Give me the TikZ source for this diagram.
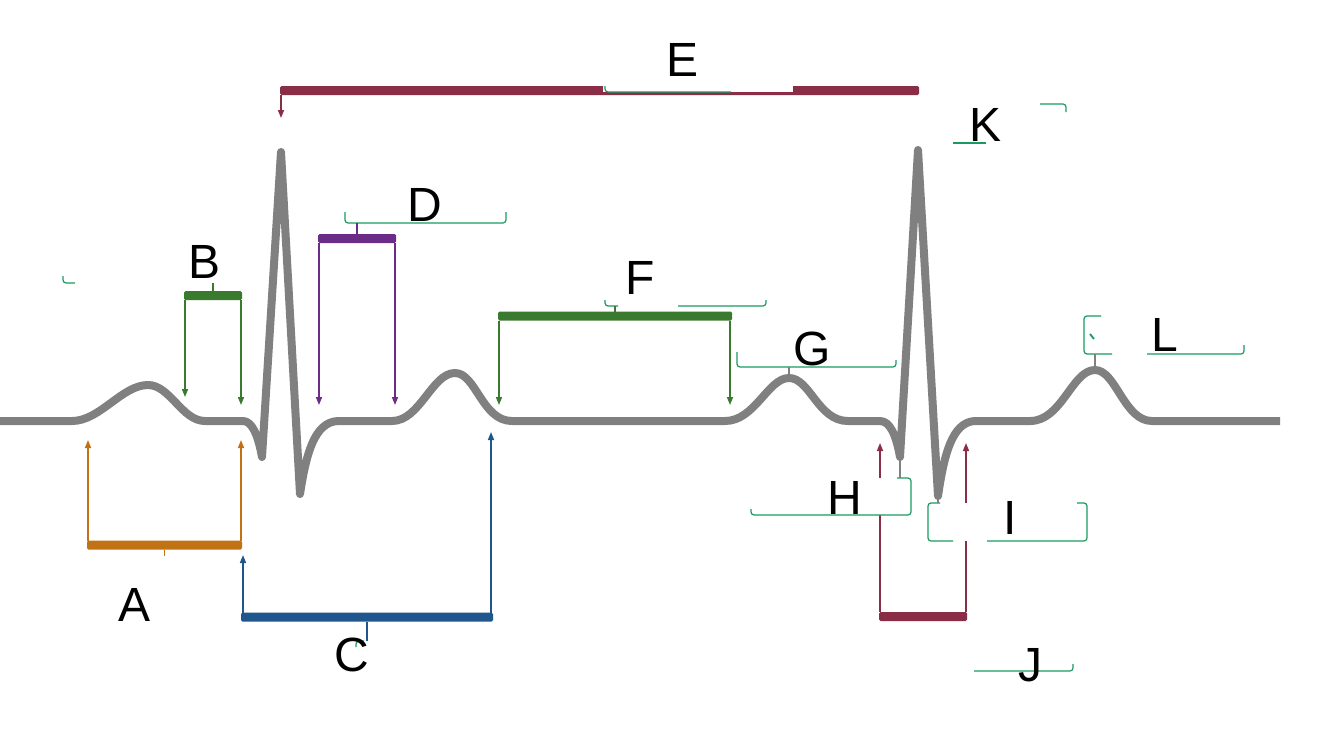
\documentclass[tikz,border=0pt]{standalone}
\usepackage{fontspec}
\setmainfont{Liberation Sans}
\usetikzlibrary{arrows.meta}
\definecolor{ecggray}{RGB}{128,128,128}
\definecolor{boxgreen}{RGB}{26,154,96}
\definecolor{brgreen}{RGB}{58,122,46}
\definecolor{brorange}{RGB}{192,114,20}
\definecolor{brblue}{RGB}{31,86,142}
\definecolor{brpurple}{RGB}{107,44,135}
\definecolor{brmaroon}{RGB}{138,45,71}
\begin{document}
\begin{tikzpicture}[x=1pt,y=-1pt,
  trace/.style={draw=ecggray,line width=8pt,line join=round},
  bar/.style={inner sep=0pt,outer sep=0pt,rounded corners=1.5pt,minimum height=9pt},
  leg/.style={line width=1.5pt,-{Triangle[length=8pt,width=6pt]}},
  stem/.style={line width=1.2pt},
  box/.style={fill=white,draw=none,inner sep=0pt,outer sep=0pt,anchor=north west},
  frag/.style={draw=boxgreen,line width=1.2pt,rounded corners=3pt},
  lbl/.style={inner sep=0pt,font=\fontsize{48}{52}\selectfont}]
\path[use as bounding box] (0,0) rectangle (1329,747);
\path[fill=white] (0,0) rectangle (1329,747);
% trace
\draw[trace] (0,421) -- (72,421) .. controls (100,421) and (122,385) .. (148,385)
  .. controls (170,385) and (182,421) .. (205,421) -- (243,421)
  .. controls (252,421) and (258,435) .. (262,457) -- (281,152) -- (300,494)
  .. controls (306,455) and (314,422) .. (338,421) -- (392,421)
  .. controls (420,421) and (432,373) .. (455,373) .. controls (476,373) and (482,421) .. (512,421)
  -- (725,421) .. controls (755,421) and (768,378) .. (789,378)
  .. controls (810,378) and (818,421) .. (848,421) -- (880,421)
  .. controls (890,421) and (896,435) .. (900,457) -- (918,150) -- (938,496)
  .. controls (944,455) and (952,422) .. (975,421) -- (1030,421)
  .. controls (1062,421) and (1072,370) .. (1095,370) .. controls (1116,370) and (1124,421) .. (1152,421)
  -- (1280,421);
% points on the trace
\coordinate (pkG) at (789,378);
\coordinate (qH) at (900,459);
\coordinate (sI) at (938,498);
\coordinate (pkL) at (1095,368);
% arrow tips
\coordinate (tipA1) at (88,440);
\coordinate (tipA2) at (241,440);
\coordinate (tipB1) at (185,397);
\coordinate (tipB2) at (241,405);
\coordinate (tipC1) at (243,555);
\coordinate (tipC2) at (491,432);
\coordinate (tipD1) at (319,405);
\coordinate (tipD2) at (395,405);
\coordinate (tipE1) at (281,118);
\coordinate (tipF1) at (499,405);
\coordinate (tipF2) at (730,405);
\coordinate (tipJ1) at (880,443);
\coordinate (tipJ2) at (966,443);
% brackets
\node[bar,fill=brgreen,minimum width=58pt] (barB) at (213,295.5) {};
\draw[leg,draw=brgreen,fill=brgreen] (barB.south -| tipB1) -- (tipB1);
\draw[leg,draw=brgreen,fill=brgreen] (barB.south -| tipB2) -- (tipB2);
\node[bar,fill=brorange,minimum width=155pt] (barA) at (164.5,545) {};
\draw[leg,draw=brorange,fill=brorange] (barA.north -| tipA1) -- (tipA1);
\draw[leg,draw=brorange,fill=brorange] (barA.north -| tipA2) -- (tipA2);
\node[bar,fill=brblue,minimum width=252pt] (barC) at (367,617) {};
\draw[leg,draw=brblue,fill=brblue] (barC.north -| tipC1) -- (tipC1);
\draw[leg,draw=brblue,fill=brblue] (barC.north -| tipC2) -- (tipC2);
\node[bar,fill=brpurple,minimum width=78pt] (barD) at (357,238.5) {};
\draw[leg,draw=brpurple,fill=brpurple] (barD.south -| tipD1) -- (tipD1);
\draw[leg,draw=brpurple,fill=brpurple] (barD.south -| tipD2) -- (tipD2);
\node[bar,fill=brmaroon,minimum width=639pt] (barE) at (599.5,90.5) {};
\draw[leg,draw=brmaroon,fill=brmaroon] (barE.south -| tipE1) -- (tipE1);
\node[bar,fill=brgreen,minimum width=234pt] (barF) at (615,316) {};
\draw[leg,draw=brgreen,fill=brgreen] (barF.south -| tipF1) -- (tipF1);
\draw[leg,draw=brgreen,fill=brgreen] (barF.south -| tipF2) -- (tipF2);
\node[bar,fill=brmaroon,minimum width=88pt] (barJ) at (923,616.5) {};
\draw[leg,draw=brmaroon,fill=brmaroon] (barJ.north -| tipJ1) -- (tipJ1);
\draw[leg,draw=brmaroon,fill=brmaroon] (barJ.north -| tipJ2) -- (tipJ2);
% label boxes
\node[box,minimum width=170pt,minimum height=51pt] (bxA) at (10,556) {};
\node[box,minimum width=160pt,minimum height=38pt] (bxB) at (63,245) {};
\node[box,minimum width=160pt,minimum height=46pt] (bxC) at (356,641) {};
\node[box,minimum width=161pt,minimum height=39pt] (bxD) at (345,184) {};
\node[box,minimum width=190pt,minimum height=52pt] (bxE) at (603,40) {};
\node[box,minimum width=161pt,minimum height=48pt] (bxF) at (605,258) {};
\node[box,minimum width=159pt,minimum height=37pt] (bxG) at (737,330) {};
\node[box,minimum width=160pt,minimum height=37pt] (bxH) at (751,478) {};
\node[box,minimum width=159pt,minimum height=38pt] (bxI) at (928,503) {};
\node[box,minimum width=168pt,minimum height=31pt] (bxJ) at (905,640) {};
\node[box,minimum width=161pt,minimum height=39pt] (bxK) at (905,104) {};
\node[box,minimum width=160pt,minimum height=38pt] (bxL) at (1084,316) {};
% what is left of the box outlines
\draw[frag] (63,276) -- (bxB.south west) -- (75,283);
\draw[frag] (356,647) -- (bxC.north west) -- (364,641);
\draw[frag] (345,212) -- (bxD.south west) -- (bxD.south east) -- (506,212);
\draw[frag] (605,86) -- (605,92) -- (731,92);
\draw[frag] (605,300) -- (bxF.south west) -- (618,306);
\draw[frag] (678,306) -- (bxF.south east) -- (766,300);
\draw[frag] (737,352) -- (bxG.south west) -- (bxG.south east) -- (896,360);
\draw[frag] (897,478) -- (bxH.north east) -- (bxH.south east) -- (bxH.south west) -- (751,509);
\draw[frag] (940,503) -- (bxI.north west) -- (bxI.south west) -- (953,541);
\draw[frag] (987,541) -- (bxI.south east) -- (bxI.north east) -- (1077,503);
\draw[frag] (974,671) -- (bxJ.south east) -- (1073,664);
\draw[frag] (953,143) -- (986,143);
\draw[frag] (1040,104) -- (bxK.north east) -- (1066,112);
\draw[frag] (1101,316) -- (bxL.north west) -- (bxL.south west) -- (1112,354);
\draw[frag] (1147,354) -- (bxL.south east) -- (1244,345);
\draw[draw=boxgreen,line width=1.8pt] (1090,334) -- (1094,339);
% stems
\draw[stem,draw=brgreen] (barB.north) -- (barB.north |- bxB.south);
\draw[stem,draw=brorange] (barA.south) -- (barA.south |- bxA.north);
\draw[stem,draw=brblue] (barC.south) -- (barC.south |- bxC.north);
\draw[stem,draw=brpurple] (barD.north) -- (barD.north |- bxD.south);
\draw[stem,draw=brgreen] (barF.north) -- (barF.north |- bxF.south);
\draw[stem,draw=ecggray] (pkG) -- (pkG |- bxG.south);
\draw[stem,draw=ecggray] (qH) -- (qH |- bxH.north);
\draw[stem,draw=ecggray] (sI) -- (sI |- bxI.north);
\draw[stem,draw=ecggray] (pkL) -- (pkL |- bxL.south);
% letters
\node[lbl] (tA) at (135,605) {A};
\node[lbl] (tB) at (205,262) {B};
\node[lbl] (tC) at (352,655) {C};
\node[lbl] (tD) at (425,205) {D};
\node[lbl] (tE) at (682,60) {E};
\node[lbl] (tF) at (640,278) {F};
\node[lbl] (tG) at (812,349) {G};
\node[lbl] (tH) at (845,498) {H};
\node[lbl] (tI) at (1010,518) {I};
\node[lbl] (tJ) at (1030,665) {J};
\node[lbl] (tK) at (985,125) {K};
\node[lbl] (tL) at (1165,335) {L};
\end{tikzpicture}
\end{document}
